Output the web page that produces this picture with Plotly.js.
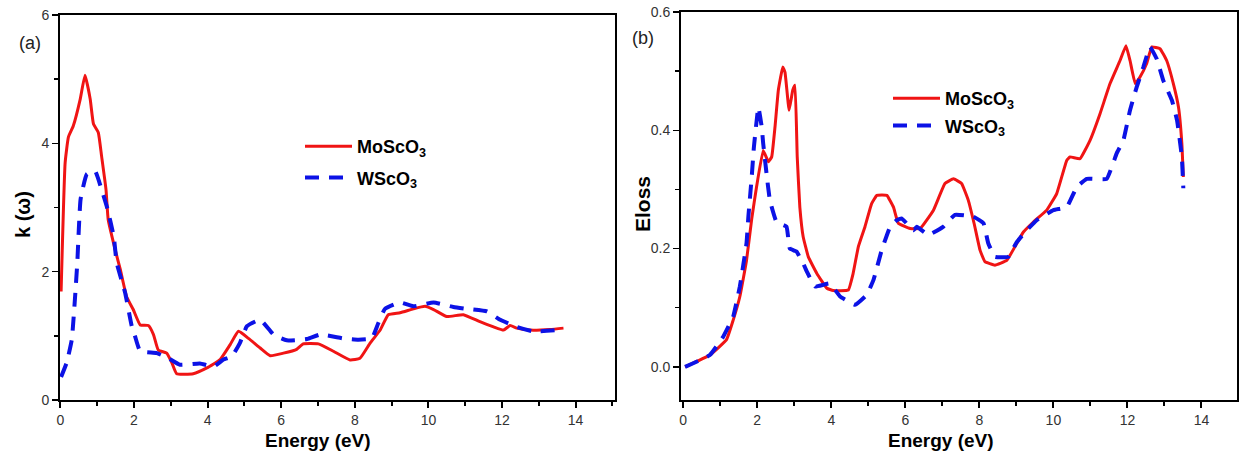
<!DOCTYPE html>
<html>
<head>
<meta charset="utf-8">
<script src="https://cdn.plot.ly/plotly-3.0.1.min.js"></script>
<style>html,body{margin:0;padding:0;background:#fff;}#plot{width:1239px;height:456px;}</style>
</head>
<body>
<div id="plot"></div>
<script>
// ---- Panel (a): extinction coefficient k(ω) ----
const kMoEnergy = [0.02,0.13,0.22,0.35,0.54,0.67,0.81,0.90,1.03,1.12,1.24,1.30,1.49,1.63,1.80,1.98,2.17,2.39,2.53,2.66,2.89,3.03,3.16,3.61,3.98,4.34,4.61,4.84,5.11,5.43,5.70,6.06,6.42,6.60,7.01,7.42,7.87,8.14,8.42,8.69,8.91,9.23,9.59,9.91,10.14,10.50,10.95,11.40,11.77,12.04,12.22,12.40,12.76,13.31,13.67];
const kMoValue  = [1.69,3.70,4.10,4.27,4.69,5.06,4.69,4.30,4.17,3.80,3.28,2.81,2.34,2.03,1.61,1.41,1.17,1.16,1.02,0.78,0.73,0.58,0.41,0.41,0.50,0.63,0.86,1.07,0.96,0.81,0.69,0.73,0.79,0.875,0.875,0.76,0.625,0.65,0.89,1.09,1.33,1.36,1.42,1.46,1.41,1.30,1.33,1.22,1.14,1.09,1.16,1.12,1.09,1.10,1.12];
const kWEnergy  = [0.02,0.17,0.31,0.40,0.46,0.55,0.72,0.94,1.12,1.26,1.45,1.53,1.76,1.94,2.03,2.17,2.62,2.94,3.25,3.79,4.16,4.43,4.66,4.88,5.07,5.43,5.79,6.15,6.70,7.06,7.69,8.10,8.46,8.64,8.82,9.23,9.59,10.14,10.68,11.04,11.59,11.95,12.40,12.85,13.67];
const kWValue   = [0.36,0.58,0.94,1.61,2.14,3.13,3.52,3.57,3.28,3.02,2.55,2.14,1.67,1.15,0.99,0.76,0.73,0.65,0.55,0.57,0.52,0.63,0.68,0.89,1.15,1.25,1.02,0.93,0.95,1.02,0.96,0.94,0.96,1.20,1.42,1.52,1.46,1.52,1.45,1.42,1.38,1.25,1.14,1.07,1.10];

// ---- Panel (b): energy loss function ----
const eMoEnergy = [0.05,0.72,1.17,1.35,1.53,1.71,1.85,1.98,2.16,2.30,2.39,2.48,2.57,2.69,2.75,2.86,2.96,3.02,3.08,3.15,3.24,3.38,3.61,3.88,4.05,4.46,4.59,4.73,4.91,5.09,5.23,5.50,5.68,5.81,6.13,6.40,6.76,7.07,7.30,7.52,7.70,7.86,8.02,8.15,8.42,8.74,8.96,9.19,9.46,9.82,10.09,10.36,10.45,10.72,10.99,11.26,11.53,11.80,11.96,12.07,12.21,12.34,12.52,12.66,12.88,13.06,13.24,13.38,13.47,13.51];
const eMoValue  = [0.0,0.02,0.046,0.079,0.119,0.18,0.25,0.304,0.366,0.347,0.355,0.406,0.468,0.507,0.498,0.434,0.468,0.476,0.355,0.27,0.22,0.186,0.158,0.133,0.129,0.13,0.158,0.203,0.237,0.276,0.29,0.29,0.27,0.243,0.234,0.234,0.265,0.31,0.318,0.31,0.282,0.242,0.197,0.178,0.172,0.18,0.203,0.228,0.245,0.265,0.293,0.349,0.355,0.352,0.383,0.428,0.479,0.518,0.543,0.518,0.479,0.49,0.513,0.541,0.538,0.518,0.479,0.439,0.378,0.321];
const eWEnergy  = [0.05,0.72,1.08,1.35,1.53,1.71,1.76,1.85,1.91,2.03,2.12,2.16,2.25,2.34,2.52,2.79,2.88,3.06,3.24,3.34,3.56,3.96,4.24,4.64,4.96,5.14,5.36,5.59,5.77,5.90,6.22,6.31,6.62,7.03,7.34,7.84,8.11,8.24,8.42,8.78,9.01,9.28,9.55,10.00,10.36,10.63,10.90,11.44,11.71,11.89,12.07,12.25,12.43,12.61,12.79,12.97,13.20,13.34,13.47,13.51];
const eWValue   = [0.0,0.02,0.051,0.085,0.136,0.209,0.254,0.321,0.372,0.439,0.406,0.378,0.327,0.282,0.245,0.237,0.2,0.195,0.175,0.161,0.136,0.141,0.119,0.105,0.122,0.147,0.197,0.237,0.248,0.251,0.231,0.237,0.223,0.237,0.257,0.254,0.243,0.209,0.186,0.186,0.211,0.231,0.248,0.265,0.27,0.304,0.318,0.318,0.361,0.383,0.434,0.473,0.507,0.541,0.521,0.484,0.451,0.417,0.355,0.302];

const xTicks = [0,2,4,6,8,10,12,14];
const kTicks = [0,2,4,6];
const eTicks = [0.0,0.2,0.4,0.6];
const eTickText = ['0.0','0.2','0.4','0.6'];

const RED = '#f01414';
const BLUE = '#0c12e6';
const W = 1239, H = 456;
const FONT = 'Liberation Sans, Arial, sans-serif';

const traces = [
  {x:kMoEnergy, y:kMoValue, xaxis:'x', yaxis:'y', mode:'lines', name:'MoScO<sub>3</sub>',
   line:{color:RED, width:3, shape:'spline', smoothing:0.4}, legend:'legend', legendgroup:'a1'},
  {x:kWEnergy, y:kWValue, xaxis:'x', yaxis:'y', mode:'lines', name:'WScO<sub>3</sub>',
   line:{color:BLUE, width:4, dash:'14px,10px', shape:'spline', smoothing:0.4}, legend:'legend', legendgroup:'a2'},
  {x:eMoEnergy, y:eMoValue, xaxis:'x2', yaxis:'y2', mode:'lines', name:'MoScO<sub>3</sub>',
   line:{color:RED, width:3, shape:'spline', smoothing:0.3}, legend:'legend2', legendgroup:'b1'},
  {x:eWEnergy, y:eWValue, xaxis:'x2', yaxis:'y2', mode:'lines', name:'WScO<sub>3</sub>',
   line:{color:BLUE, width:4, dash:'14px,10px', shape:'spline', smoothing:0.3}, legend:'legend2', legendgroup:'b2'}
];

function xax(domain, range){
  return {domain:domain, range:range, tickvals:xTicks, ticks:'outside', ticklen:6, tickwidth:2,
    tickcolor:'#000', showline:true, linewidth:2, linecolor:'#000', mirror:true, zeroline:false,
    showgrid:false, automargin:false, tickfont:{family:FONT, size:14, color:'#333'},
    minor:{dtick:1, ticks:'outside', ticklen:4, tickwidth:2, tickcolor:'#000', showgrid:false}};
}
function yax(domain, range, tv, tt, anchor, mdt){
  const o = {domain:domain, range:range, tickvals:tv, ticks:'outside', ticklen:6, tickwidth:1.5,
    tickcolor:'#000', showline:true, linewidth:2, linecolor:'#000', mirror:true, zeroline:false,
    showgrid:false, automargin:false, anchor:anchor, tickfont:{family:FONT, size:14, color:'#333'},
    minor:{dtick:mdt, ticks:'outside', ticklen:4, tickwidth:1.5, tickcolor:'#000', showgrid:false}};
  if (tt) o.ticktext = tt;
  return o;
}

const legFont = {family:FONT, size:18, color:'#000', weight:'bold'};
const layout = {
  width:W, height:H, margin:{l:0,r:0,t:0,b:0}, paper_bgcolor:'#fff', plot_bgcolor:'#fff',
  font:{family:FONT, color:'#000'},
  xaxis: xax([60/W, 615/W], [-0.01, 15.07]),
  yaxis: yax([(H-400)/H, (H-15)/H], [0,6], kTicks, null, 'x', 1),
  xaxis2: Object.assign(xax([681/W, 1237/W], [-0.06, 14.96]), {anchor:'y2'}),
  yaxis2: yax([(H-400)/H, (H-12)/H], [-0.056, 0.6], eTicks, eTickText, 'x2', 0.1),
  legend: {x:300/W, y:1-128/H, xanchor:'left', yanchor:'top', bgcolor:'rgba(0,0,0,0)',
    font:legFont, traceorder:'grouped', tracegroupgap:5, itemwidth:47},
  legend2: {x:888/W, y:1-80/H, xanchor:'left', yanchor:'top', bgcolor:'rgba(0,0,0,0)',
    font:legFont, traceorder:'grouped', tracegroupgap:1, itemwidth:47},
  showlegend:true,
  annotations:[
    {text:'<b>Energy (eV)</b>', xref:'paper', yref:'paper', x:318/W, y:1-440/H, xanchor:'center', yanchor:'middle', showarrow:false, font:{family:FONT, size:19, color:'#000'}},
    {text:'<b>Energy (eV)</b>', xref:'paper', yref:'paper', x:941/W, y:1-440/H, xanchor:'center', yanchor:'middle', showarrow:false, font:{family:FONT, size:19, color:'#000'}},
    {text:'<b>k (ω)</b>', xref:'paper', yref:'paper', x:23/W, y:1-215/H, xanchor:'center', yanchor:'middle', showarrow:false, textangle:-90, font:{family:FONT, size:20, color:'#000'}},
    {text:'<b>Eloss</b>', xref:'paper', yref:'paper', x:642/W, y:1-204/H, xanchor:'center', yanchor:'middle', showarrow:false, textangle:-90, font:{family:FONT, size:21, color:'#000'}},
    {text:'(a)', xref:'paper', yref:'paper', x:30/W, y:1-43/H, xanchor:'center', yanchor:'middle', showarrow:false, font:{family:FONT, size:18, color:'#222'}},
    {text:'(b)', xref:'paper', yref:'paper', x:643/W, y:1-38/H, xanchor:'center', yanchor:'middle', showarrow:false, font:{family:FONT, size:18, color:'#222'}}
  ]
};

Plotly.newPlot('plot', traces, layout, {displayModeBar:false, staticPlot:true});
</script>
</body>
</html>
